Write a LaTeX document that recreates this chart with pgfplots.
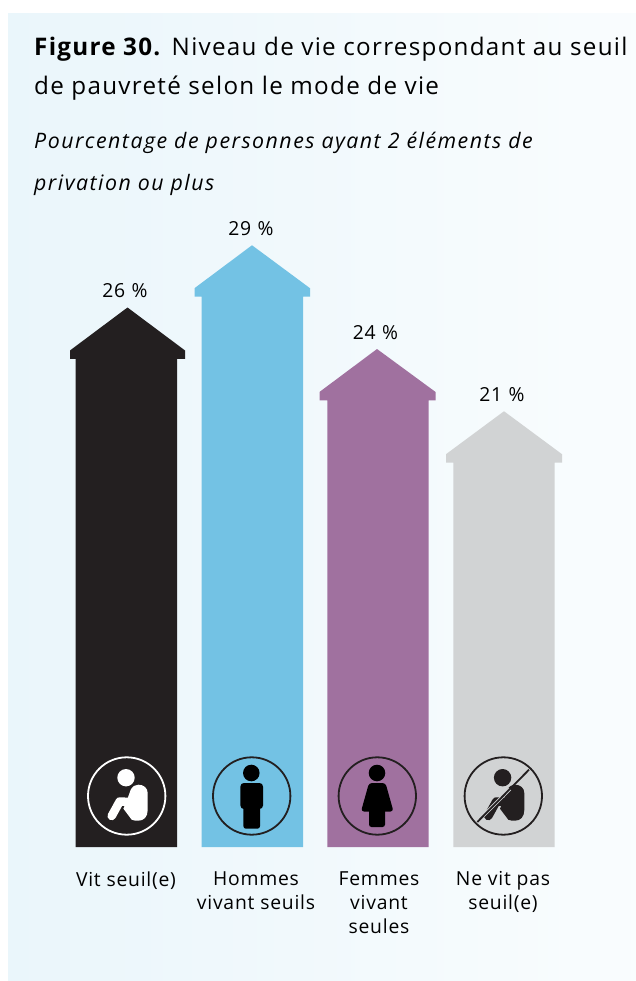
\documentclass[border=0pt]{standalone}
\usepackage{fontspec}
\setmainfont{Open Sans}
\newfontfamily\ftitle[LetterSpace=5.3]{Open Sans}
\newfontfamily\fsub[LetterSpace=7]{Open Sans}
\newfontfamily\flab[LetterSpace=4]{Open Sans}
\usepackage{pgfplots}
\pgfplotsset{compat=1.18}
\definecolor{cblack}{HTML}{231F20}
\definecolor{cblue}{HTML}{73C2E4}
\definecolor{cpurple}{HTML}{A0719F}
\definecolor{cgray}{HTML}{D1D3D4}
\newcommand{\seated}[3]{% cx, cy, colour
  \begin{scope}[shift={(#1,#2)},yscale=-1]
    \fill[#3] (-0.7,-18.3) circle (8.7);
    \fill[#3] (4,-6.3) .. controls (6,-10) and (9,-11.3) .. (11.7,-11.3) .. controls (17,-11.3) and (21,-8) .. (21,-3)
      -- (21,14) .. controls (21,21) and (17,24.7) .. (11.7,24.7) .. controls (9,24.7) and (6.5,24.5) .. (5,23.7) -- (-3.3,12.7) -- (0,5) -- cycle;
    \draw[#3,line width=8.5bp,line cap=round,line join=round] (-15,20) -- (-7,5.5) -- (3,6);
  \end{scope}}
\begin{document}
\begin{tikzpicture}[x=1bp,y=1bp]
  % page and panel (y = 847 - pixel row)
  \fill[white] (0,-134) rectangle (636,847);
  \shade[left color=cblue!15!white, right color=cblue!4!white] (8,834) rectangle (636,-134);
  \node[anchor=base west,inner sep=0,font=\ftitle\fontsize{24.3}{24}\selectfont] at (34,792) {\textbf{Figure 30.} Niveau de vie correspondant au seuil};
  \node[anchor=base west,inner sep=0,font=\ftitle\fontsize{24.3}{24}\selectfont] at (34,753) {de pauvreté selon le mode de vie};
  \node[anchor=base west,inner sep=0,font=\fsub\fontsize{21.4}{21}\selectfont\itshape] at (34,699) {Pourcentage de personnes ayant 2 éléments de};
  \node[anchor=base west,inner sep=0,font=\fsub\fontsize{21.4}{21}\selectfont\itshape] at (34,657) {privation ou plus};
  \begin{axis}[
    at={(0,0)},anchor=south west,
    scale only axis,width=636bp,height=847bp,
    xmin=0,xmax=636,ymin=0,ymax=40.82,clip=false,
    axis line style={draw=none},tick style={draw=none},major tick length=0pt,
    ytick=\empty,
    xtick={126,256,379,503},
    xticklabels={{Vit seuil(e)},{Hommes\\vivant seuils},{Femmes\\vivant\\seules},{Ne vit pas\\seuil(e)}},
    xticklabel style={align=center,font=\flab\fontsize{19.4}{24}\selectfont,yshift=-24.5bp,inner sep=0pt},
    /pgf/number format/assume math mode=true,
  ]
  \addplot[fill=cblack,draw=none] coordinates {(75.5,0)(75.5,23.52)(70,23.52)(70,23.93)(127.5,26)(185,23.93)(185,23.52)(177,23.52)(177,0)} -- cycle;
  \addplot[fill=cblue,draw=none] coordinates {(201.5,0)(201.5,26.52)(194.5,26.52)(194.5,26.93)(252,29)(310,26.93)(310,26.52)(303,26.52)(303,0)} -- cycle;
  \addplot[fill=cpurple,draw=none] coordinates {(327.3,0)(327.3,21.52)(319.5,21.52)(319.5,21.93)(377,24)(435.5,21.93)(435.5,21.52)(428.7,21.52)(428.7,0)} -- cycle;
  \addplot[fill=cgray,draw=none] coordinates {(453.3,0)(453.3,18.52)(446,18.52)(446,18.93)(504,21)(562,18.93)(562,18.52)(554.7,18.52)(554.7,0)} -- cycle;
  \addplot[draw=none,mark=none,point meta=explicit,
    nodes near coords={\pgfmathprintnumber{\pgfplotspointmeta}\,\,\%},
    nodes near coords align={above},
    every node near coord/.style={font=\flab\fontsize{19.4}{19}\selectfont,inner sep=0pt,yshift=9.5bp,text=black}]
    coordinates {(125,26)[26] (251,29)[29] (375.5,24)[24] (502,21)[21]};
  \end{axis}
  % icons
  \draw[white,line width=1.8bp] (126.7,51) circle (38.7);
  \seated{126.7}{51}{white}
  \draw[cblack,line width=1.8bp] (251.7,51) circle (38.7);
  \fill[black] (251.3,74) circle (8.3);
  \fill[black,rounded corners=3.5bp] (240.4,64) rectangle (263,38);
  \fill[black,rounded corners=2.5bp] (243.4,45) rectangle (260,18.3);
  \draw[cblack,line width=1.8bp] (377.3,51) circle (38.7);
  \fill[black] (377,74) circle (8.3);
  \fill[black,rounded corners=3bp] (369,64) -- (385.5,64) -- (393.5,35.5) -- (361,35.5) -- cycle;
  \fill[black,rounded corners=2.5bp] (369,40) rectangle (385,20);
  \begin{scope}
    \draw[cblack,line width=1.8bp] (503.3,51) circle (38.7);
    \seated{503.3}{51}{cblack}
    \draw[cgray,line width=3.5bp] (510,58) -- (482,30);
    \draw[cblack,line width=1.8bp] (529,77.3) -- (477.3,25);
  \end{scope}
\end{tikzpicture}
\end{document}
